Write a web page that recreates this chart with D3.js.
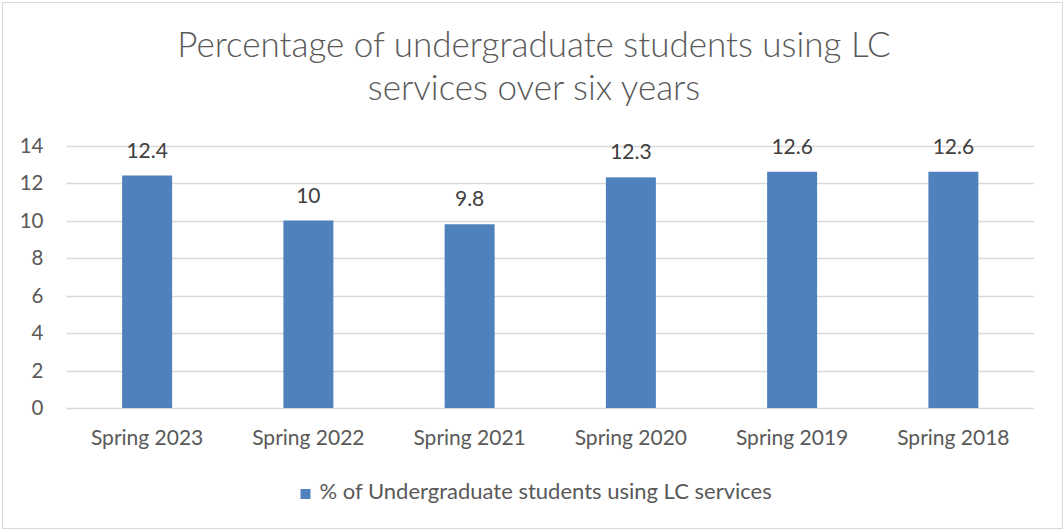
<!DOCTYPE html>
<html>
<head>
<meta charset="utf-8">
<script src="https://cdn.jsdelivr.net/npm/d3@7/dist/d3.min.js"></script>
<style>
  html, body { margin: 0; padding: 0; background: #fff; }
  svg { display: block; }
  text { font-family: Lato, "Open Sans", sans-serif; }
</style>
</head>
<body>
<svg id="chart" width="1064" height="529"></svg>
<script>
// Share of undergraduate students using LC services, by spring term
const categories = ["Spring 2023", "Spring 2022", "Spring 2021", "Spring 2020", "Spring 2019", "Spring 2018"];
const values = [12.4, 10, 9.8, 12.3, 12.6, 12.6];
const yTicks = [0, 2, 4, 6, 8, 10, 12, 14];
const titleLines = ["Percentage of undergraduate students using LC", "services over six years"];
const seriesName = "% of Undergraduate students using LC services";

const svg = d3.select("#chart");
const W = 1064, H = 529;
const margin = { left: 66.5, right: 30, top: 145.5, bottom: 121 };
const barColor = "#4F81BD";
const font = "Lato, 'Open Sans', sans-serif";

// outer chart frame
svg.append("rect")
  .attr("x", 2.5).attr("y", 2.5)
  .attr("width", W - 4).attr("height", H - 3)
  .attr("fill", "#fff").attr("stroke", "#d9d9d9").attr("stroke-width", 1);

// title
svg.append("text")
  .attr("x", 534).attr("y", 57)
  .attr("text-anchor", "middle")
  .attr("fill", "#595959")
  .attr("font-size", 35)
  .attr("font-weight", 300)
  .selectAll("tspan")
  .data(titleLines)
  .join("tspan")
  .attr("x", 534)
  .attr("dy", (d, i) => i === 0 ? 0 : 43)
  .text(d => d);

const x = d3.scaleBand()
  .domain(categories)
  .range([margin.left, W - margin.right])
  .paddingInner(0.69)
  .paddingOuter(0.345);

const y = d3.scaleLinear()
  .domain([0, 14])
  .range([H - margin.bottom, margin.top]);

// horizontal gridlines
svg.append("g")
  .selectAll("line")
  .data(yTicks)
  .join("line")
  .attr("x1", margin.left).attr("x2", W - margin.right)
  .attr("y1", d => Math.round(y(d)) + 0.5).attr("y2", d => Math.round(y(d)) + 0.5)
  .attr("stroke", "#d9d9d9").attr("stroke-width", 1.5);

// y axis labels
const yAxis = d3.axisLeft(y).tickValues(yTicks).tickSize(0).tickPadding(0);
const gy = svg.append("g")
  .attr("transform", `translate(${margin.left - 23},0)`)
  .call(yAxis);
gy.select(".domain").remove();
gy.selectAll("text")
  .attr("font-size", 20.5)
  .attr("fill", "#595959")
  .attr("font-family", font);

// bars
svg.append("g")
  .selectAll("rect")
  .data(categories)
  .join("rect")
  .attr("x", d => x(d))
  .attr("width", x.bandwidth())
  .attr("y", (d, i) => y(values[i]))
  .attr("height", (d, i) => y(0) - y(values[i]))
  .attr("fill", barColor);

// value labels
svg.append("g")
  .selectAll("text")
  .data(categories)
  .join("text")
  .attr("x", d => x(d) + x.bandwidth() / 2)
  .attr("y", (d, i) => y(values[i]) - 18)
  .attr("text-anchor", "middle")
  .attr("font-size", 21)
  .attr("fill", "#404040")
  .text((d, i) => values[i]);

// x axis labels
const xAxis = d3.axisBottom(x).tickSize(0).tickPadding(0);
const gx = svg.append("g")
  .attr("transform", `translate(0,${y(0) + 22})`)
  .call(xAxis);
gx.select(".domain").remove();
gx.selectAll("text")
  .attr("font-size", 21)
  .attr("fill", "#595959")
  .attr("font-family", font);

// legend
const legend = svg.append("g").attr("transform", "translate(300.5,489)");
legend.append("rect")
  .attr("width", 10).attr("height", 10)
  .attr("fill", barColor);
legend.append("text")
  .attr("x", 19).attr("y", 10)
  .attr("font-size", 22)
  .attr("fill", "#595959")
  .text(seriesName);
</script>
</body>
</html>
